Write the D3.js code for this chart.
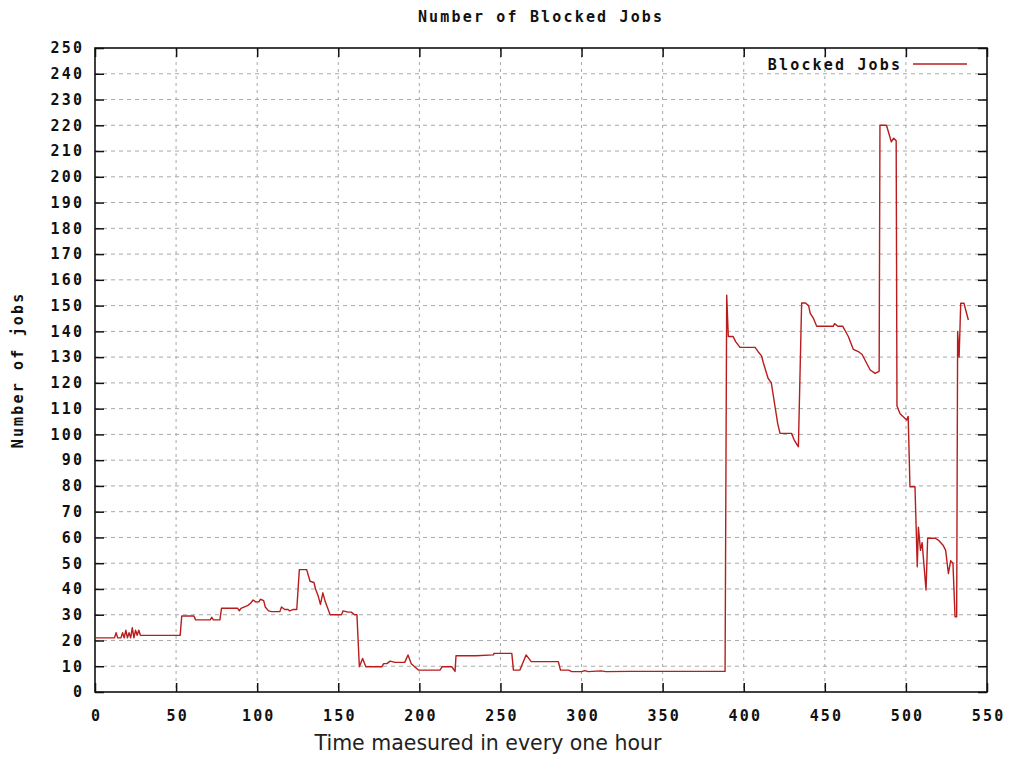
<!DOCTYPE html>
<html>
<head>
<meta charset="utf-8">
<script src="https://cdn.jsdelivr.net/npm/d3@7"></script>
<style>
  body { margin: 0; background: #fff; }
</style>
</head>
<body>
<div id="plot"></div>
<script>
// data
const hours = [0, 12, 13, 14, 16, 17, 18, 19, 20, 21, 22, 23, 24, 25, 26, 27, 28, 52.5, 53.5, 61,
  62, 71, 72, 73, 77, 78, 88, 89, 90, 94, 96, 97.5, 99, 101, 102, 104, 105, 107, 109, 114,
  115, 117, 119, 120, 122, 124.4, 126, 130.5, 132.6, 135, 136, 137.5, 139, 140.5, 142, 145, 152, 153, 156, 158,
  160, 161.5, 163, 165, 167, 176.8, 178, 180, 182, 185, 191, 193, 195, 199.4, 212.7, 214, 220, 222, 222.6, 235,
  245.6, 246, 257, 258, 262, 265.8, 269, 285.7, 287, 292, 294, 300, 302, 304, 312, 315, 330, 388.5, 389.5, 390.5,
  393.5, 395, 397.7, 407, 409, 411, 412, 415, 417, 419, 421, 422.4, 429.5, 431, 433.7, 435.7, 438, 440, 441, 443,
  445, 455.3, 456, 458, 461, 464.5, 467.6, 471, 473, 475.8, 478, 481, 483.5, 484, 488, 491, 492.5, 494, 494.5, 496.4,
  500.5, 501.4, 502.5, 505.6, 507, 507.7, 509, 510, 512.4, 513.4, 518, 520, 522.9, 524.5, 526.2, 527.6, 529, 530.3, 531.3, 531.9,
  532.8, 533.8, 535.8, 538.5];
const jobs = [21, 21, 23, 21, 21, 23, 21, 24, 21, 23, 21, 25, 21, 24, 22, 24, 22, 22, 29.5, 29.5,
  28, 28, 29, 28, 28, 32.5, 32.5, 31.5, 32.5, 33.5, 34.5, 35.7, 35, 35, 36, 35.5, 33, 31.5, 31.2, 31.2,
  33, 32, 32, 31.5, 32, 32, 47.5, 47.5, 43, 42.5, 40, 37.5, 34, 38.5, 35, 30, 30, 31.5, 31, 31,
  30, 30, 9.8, 13, 9.8, 9.8, 11, 11, 12, 11.5, 11.5, 14.4, 11, 8.5, 8.5, 9.8, 9.8, 8, 14.1, 14.1,
  14.4, 15, 15, 8.5, 8.5, 14.4, 11.8, 11.8, 8.5, 8.5, 7.9, 7.9, 8.3, 7.9, 8.2, 7.9, 8, 8, 154, 138,
  138, 136, 133.8, 133.8, 132, 130.5, 128, 121.8, 120, 112, 104, 100.4, 100.4, 98, 95.2, 151, 151, 150, 147, 145,
  142, 142, 143, 142, 142, 138, 133, 132, 131, 127.6, 125, 123.7, 124.5, 220, 220, 213.6, 215, 214, 111, 108,
  105.6, 107, 79.7, 79.7, 48.6, 64, 55, 58, 39.6, 59.7, 59.7, 59, 57, 55, 46, 51, 50, 29.2, 29.2, 140,
  130, 150.9, 150.9, 144.4];

const xTicks = d3.range(0, 551, 50);
const yTicks = d3.range(0, 251, 10);

const titleText = "Number of Blocked Jobs";
const xLabel = "Time maesured in every one hour";
const yLabel = "Number of jobs";
const seriesName = "Blocked Jobs";

const w = 1011;
const h = 758;
const margin = {top: 48, right: 24, bottom: 66, left: 95};
const innerWidth = w - margin.left - margin.right;
const innerHeight = h - margin.top - margin.bottom;

const monoFont = "DejaVu Sans Mono, monospace";
const charStep = 11.2;

const svg = d3.select("div#plot")
    .append("svg")
    .attr("width", w)
    .attr("height", h);

// wide bold mono look of the old plotting font
function mono(sel) {
  sel.attr("font-family", monoFont)
     .attr("font-weight", "bold")
     .attr("font-size", 15)
     .attr("fill", "#111")
     .attr("lengthAdjust", "spacing")
     .attr("textLength", function() {
       const n = this.textContent.length;
       return n * charStep - 2.2;
     });
}

const xScale = d3.scaleLinear().domain([0, 550]).range([0, innerWidth]);
const yScale = d3.scaleLinear().domain([0, 250]).range([innerHeight, 0]);

const g = svg.append("g")
    .attr("transform", `translate(${margin.left}, ${margin.top})`);

// grid
g.append("g").selectAll("line")
    .data(yTicks.slice(1, -1))
  .enter().append("line")
    .attr("x1", 0).attr("x2", innerWidth)
    .attr("y1", d => yScale(d)).attr("y2", d => yScale(d))
    .attr("stroke", "#a8a8a8")
    .attr("stroke-dasharray", "4,4");

g.append("g").selectAll("line")
    .data(xTicks.slice(1, -1))
  .enter().append("line")
    .attr("y1", 0).attr("y2", innerHeight)
    .attr("x1", d => xScale(d)).attr("x2", d => xScale(d))
    .attr("stroke", "#a8a8a8")
    .attr("stroke-dasharray", "3,4");

// axes with inward ticks, mirrored
const tickLen = 9;
const yAxis = d3.axisLeft(yScale).tickValues(yTicks).tickSize(-tickLen).tickPadding(13);
const xAxis = d3.axisBottom(xScale).tickValues(xTicks).tickSize(-tickLen).tickPadding(18);

const ya = g.append("g").call(yAxis);
const xa = g.append("g").attr("transform", `translate(0, ${innerHeight})`).call(xAxis);
g.append("g").attr("transform", `translate(${innerWidth}, 0)`)
    .call(d3.axisRight(yScale).tickValues(yTicks).tickSize(-tickLen).tickFormat(""));
g.append("g")
    .call(d3.axisTop(xScale).tickValues(xTicks).tickSize(-tickLen).tickFormat(""));

g.selectAll(".domain").remove();
g.selectAll(".tick line").attr("stroke", "#111").attr("stroke-width", 1.5);
ya.attr("font-size", null).attr("font-family", null);
xa.attr("font-size", null).attr("font-family", null);
ya.selectAll("text").call(mono);
xa.selectAll("text").call(mono);

// frame
g.append("rect")
    .attr("width", innerWidth)
    .attr("height", innerHeight)
    .attr("fill", "none")
    .attr("stroke", "#111")
    .attr("stroke-width", 1.6);

// series
const points = hours.map((d, i) => [d, jobs[i]]);
const line = d3.line()
    .x(d => xScale(d[0]))
    .y(d => yScale(d[1]));

g.append("path")
    .datum(points)
    .attr("fill", "none")
    .attr("stroke", "#b81c1c")
    .attr("stroke-width", 1.4)
    .attr("stroke-linejoin", "round")
    .attr("d", line);

// legend
svg.append("text")
    .text(seriesName)
    .call(mono)
    .attr("x", 900)
    .attr("y", 70)
    .attr("text-anchor", "end");
svg.append("line")
    .attr("x1", 913).attr("x2", 967)
    .attr("y1", 64).attr("y2", 64)
    .attr("stroke", "#b81c1c")
    .attr("stroke-width", 1.4);

// title and labels
svg.append("text")
    .text(titleText)
    .call(mono)
    .attr("x", 540)
    .attr("y", 22)
    .attr("text-anchor", "middle");

svg.append("text")
    .attr("x", 488)
    .attr("y", 750)
    .attr("text-anchor", "middle")
    .attr("font-family", "DejaVu Sans, sans-serif")
    .attr("font-size", 20.5)
    .attr("fill", "#222")
    .text(xLabel);

svg.append("text")
    .text(yLabel)
    .call(mono)
    .attr("transform", "translate(23, 371) rotate(-90)")
    .attr("text-anchor", "middle");
</script>
</body>
</html>
